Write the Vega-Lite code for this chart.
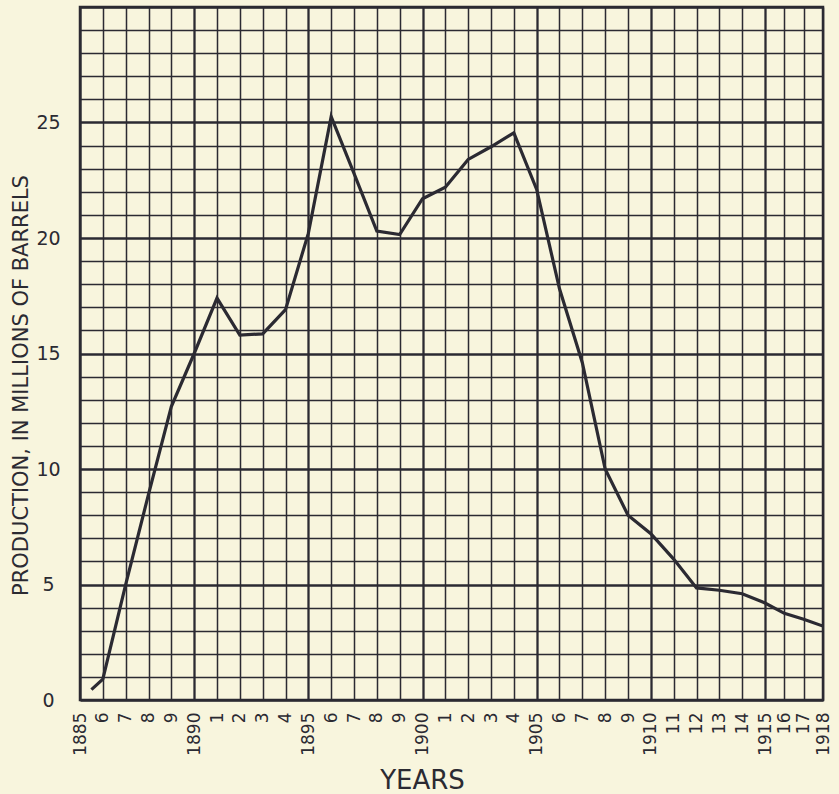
{
  "$schema": "https://vega.github.io/schema/vega-lite/v6.json",
  "width": 743,
  "height": 693,
  "autosize": {"type": "none"},
  "padding": {"left": 80, "top": 7, "right": 16, "bottom": 94},
  "background": "#f8f5dd",
  "config": {
    "view": {"stroke": "#2b2a32", "strokeWidth": 2.5, "fill": "#f8f5dd"},
    "font": "DejaVu Sans"
  },
  "data": {
    "values": [
      {"year": 1885.5, "production": 0.45},
      {"year": 1886, "production": 0.9},
      {"year": 1887, "production": 5.0},
      {"year": 1888, "production": 8.9},
      {"year": 1889, "production": 12.7},
      {"year": 1890, "production": 15.0},
      {"year": 1891, "production": 17.4},
      {"year": 1892, "production": 15.8},
      {"year": 1893, "production": 15.85},
      {"year": 1894, "production": 16.9},
      {"year": 1895, "production": 20.2},
      {"year": 1896, "production": 25.25},
      {"year": 1897, "production": 22.8},
      {"year": 1898, "production": 20.3},
      {"year": 1899, "production": 20.15},
      {"year": 1900, "production": 21.7},
      {"year": 1901, "production": 22.2},
      {"year": 1902, "production": 23.4},
      {"year": 1903, "production": 23.95},
      {"year": 1904, "production": 24.55},
      {"year": 1905, "production": 22.1},
      {"year": 1906, "production": 17.8},
      {"year": 1907, "production": 14.6},
      {"year": 1908, "production": 10.0},
      {"year": 1909, "production": 8.0},
      {"year": 1910, "production": 7.2},
      {"year": 1911, "production": 6.1},
      {"year": 1912, "production": 4.85},
      {"year": 1913, "production": 4.75},
      {"year": 1914, "production": 4.6},
      {"year": 1915, "production": 4.2},
      {"year": 1916, "production": 3.75},
      {"year": 1917, "production": 3.5},
      {"year": 1918, "production": 3.2}
    ]
  },
  "mark": {"type": "line", "color": "#2b2a32", "strokeWidth": 3.2, "strokeJoin": "miter", "clip": true},
  "encoding": {
    "x": {
      "field": "year",
      "type": "quantitative",
      "scale": {"domain": [1885, 1915, 1918], "range": [0, 685, 743], "nice": false, "zero": false},
      "axis": {
        "values": [1885,1886,1887,1888,1889,1890,1891,1892,1893,1894,1895,1896,1897,1898,1899,1900,1901,1902,1903,1904,1905,1906,1907,1908,1909,1910,1911,1912,1913,1914,1915,1916,1917,1918],
        "labelExpr": "(datum.value % 5 == 0 || datum.value == 1918) ? toString(datum.value) : (datum.value > 1910 ? toString(datum.value - 1900) : toString(datum.value % 10))",
        "labelAngle": -90,
        "labelAlign": "right",
        "labelBaseline": "middle",
        "labelFontSize": 17,
        "labelColor": "#2b2a32",
        "labelPadding": 12,
        "labelOverlap": false,
        "labelFlush": false,
        "ticks": false,
        "tickSize": 0,
        "domain": false,
        "grid": true,
        "gridColor": "#2b2a32",
        "gridOpacity": 1,
        "gridWidth": {"condition": {"test": "datum.value % 5 == 0", "value": 2.3}, "value": 1.5},
        "title": "YEARS",
        "titleFontSize": 26,
        "titleFontWeight": "normal",
        "titleColor": "#2b2a32",
        "titleAlign": "center",
        "titleBaseline": "alphabetic",
        "titleX": 342,
        "titleY": 88
      }
    },
    "y": {
      "field": "production",
      "type": "quantitative",
      "scale": {"domain": [0, 30], "nice": false},
      "axis": {
        "values": [0,1,2,3,4,5,6,7,8,9,10,11,12,13,14,15,16,17,18,19,20,21,22,23,24,25,26,27,28,29,30],
        "labelExpr": "(datum.value % 5 == 0 && datum.value < 30) ? toString(datum.value) : ''",
        "labelAlign": "center",
        "labelBaseline": "middle",
        "labelFontSize": 19,
        "labelColor": "#2b2a32",
        "labelPadding": 32,
        "labelOverlap": false,
        "labelFlush": false,
        "ticks": false,
        "tickSize": 0,
        "domain": false,
        "grid": true,
        "gridColor": "#2b2a32",
        "gridOpacity": 1,
        "gridWidth": {"condition": {"test": "datum.value % 5 == 0", "value": 2.3}, "value": 1.5},
        "title": "PRODUCTION, IN MILLIONS OF BARRELS",
        "titleFontSize": 21,
        "titleFontWeight": "normal",
        "titleColor": "#2b2a32",
        "titleAngle": -90,
        "titleAlign": "center",
        "titleBaseline": "middle",
        "titleX": -59,
        "titleY": 378
      }
    }
  }
}
